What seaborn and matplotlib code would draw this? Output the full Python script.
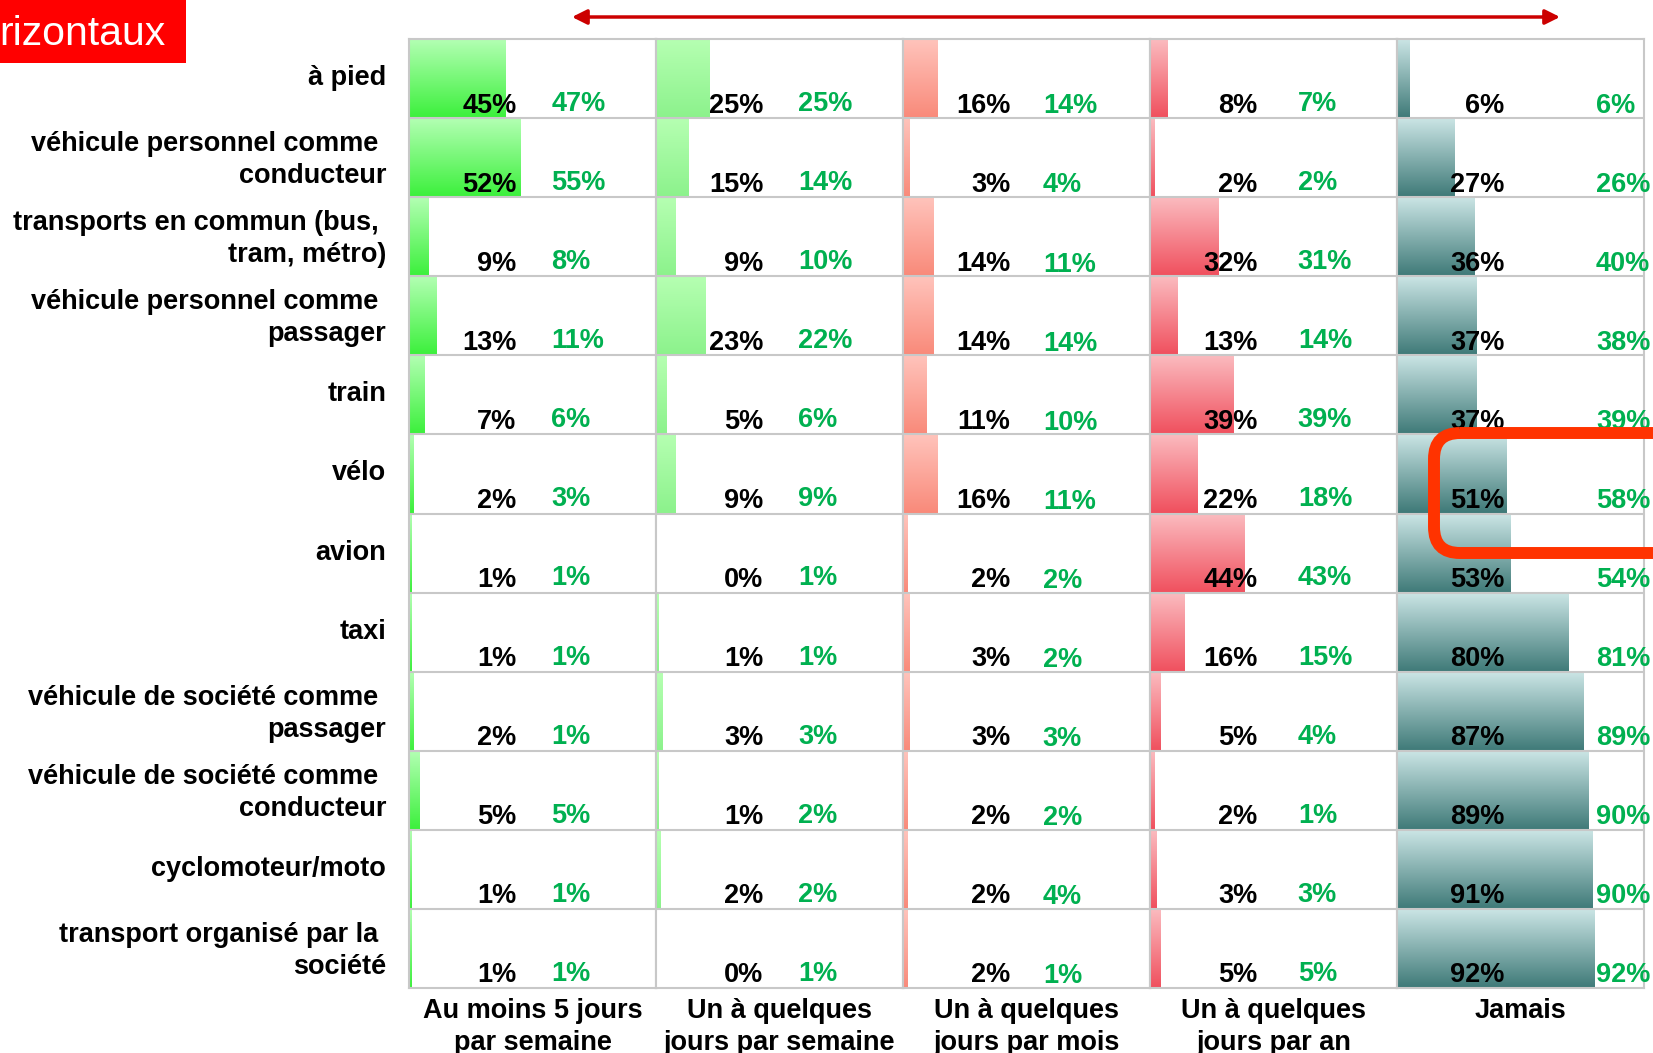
import numpy as np
import pandas as pd
import matplotlib
matplotlib.use("Agg")
import matplotlib.pyplot as plt
import matplotlib.transforms as mtransforms
from matplotlib.colors import to_rgb
from matplotlib.patches import Rectangle, FancyBboxPatch
import seaborn as sns

# =========================================================
# DATA
# =========================================================
modes = [
    "à pied",
    "véhicule personnel comme \nconducteur",
    "transports en commun (bus, \ntram, métro)",
    "véhicule personnel comme \npassager",
    "train",
    "vélo",
    "avion",
    "taxi",
    "véhicule de société comme \npassager",
    "véhicule de société comme \nconducteur",
    "cyclomoteur/moto",
    "transport organisé par la \nsociété",
]
freq_labels = [
    "Au moins 5 jours\npar semaine",
    "Un à quelques\njours par semaine",
    "Un à quelques\njours par mois",
    "Un à quelques\njours par an",
    "Jamais",
]

# current wave (bars + black labels)
cur_5j     = [45, 52, 9, 13, 7, 2, 1, 1, 2, 5, 1, 1]
cur_sem    = [25, 15, 9, 23, 5, 9, 0, 1, 3, 1, 2, 0]
cur_mois   = [16, 3, 14, 14, 11, 16, 2, 3, 3, 2, 2, 2]
cur_an     = [8, 2, 32, 13, 39, 22, 44, 16, 5, 2, 3, 5]
cur_jamais = [6, 27, 36, 37, 37, 51, 53, 80, 87, 89, 91, 92]

# previous wave (green labels)
prev_5j     = [47, 55, 8, 11, 6, 3, 1, 1, 1, 5, 1, 1]
prev_sem    = [25, 14, 10, 22, 6, 9, 1, 1, 3, 2, 2, 1]
prev_mois   = [14, 4, 11, 14, 10, 11, 2, 2, 3, 2, 4, 1]
prev_an     = [7, 2, 31, 14, 39, 18, 43, 15, 4, 1, 3, 5]
prev_jamais = [6, 26, 40, 38, 39, 58, 54, 81, 89, 90, 90, 92]

cur_cols  = [cur_5j, cur_sem, cur_mois, cur_an, cur_jamais]
prev_cols = [prev_5j, prev_sem, prev_mois, prev_an, prev_jamais]

df = pd.concat([
    pd.DataFrame({"mode": modes, "freq": f, "val": c, "prev": p})
    for f, c, p in zip(freq_labels, cur_cols, prev_cols)
], ignore_index=True)

# =========================================================
# STYLE
# =========================================================
sns.set_theme(style="white")
plt.rcParams["font.family"] = ["Liberation Sans", "DejaVu Sans"]

FS = 19.5
GREEN_TXT = "#00b050"
GRID = "#c8c8c8"
# (top colour, bottom colour) of the vertical gradient per column
grads = [("#b4ffb4", "#3cf03c"),
         ("#b6ffb2", "#8cf28c"),
         ("#ffc4bc", "#f98a7a"),
         ("#fbbcc0", "#f0505e"),
         ("#cce6e6", "#3f7a78")]
green_x = [66.2, 66.2, 65.1, 68.8, 92.6]
green_dy = [0.41, 0.41, 0.44, 0.41, 0.43]


def gradient_bar(ax, patch, top, bottom):
    x0, y0 = patch.get_x(), patch.get_y()
    w, h = patch.get_width(), patch.get_height()
    if w <= 0:
        return
    t = np.linspace(0, 1, 64)[:, None, None]
    img = (1 - t) * np.array(to_rgb(top)) + t * np.array(to_rgb(bottom))
    ax.imshow(img, extent=(x0, x0 + w, y0 + h, y0), origin="upper",
              aspect="auto", interpolation="bilinear", zorder=1)
    patch.set_facecolor("none")


fig, axes = plt.subplots(1, 5, figsize=(16.53, 10.53), dpi=100)
fig.subplots_adjust(left=409 / 1653, right=1644 / 1653,
                    top=1 - 39 / 1053, bottom=1 - 988 / 1053, wspace=0)

n = len(modes)
for j, ax in enumerate(axes):
    sub = df[df["freq"] == freq_labels[j]]
    sns.barplot(data=sub, x="val", y="mode", order=modes, orient="h",
                color=grads[j][1], width=1.0, saturation=1, linewidth=0, ax=ax)
    for p in list(ax.patches):
        gradient_bar(ax, p, *grads[j])

    for i, (v, pv) in enumerate(zip(sub["val"], sub["prev"])):
        ax.text(50, i + 0.43, f"{v}%", ha="right", va="baseline",
                fontsize=FS, fontweight="bold", color="black", zorder=5)
        ax.text(green_x[j], i + green_dy[j], f"{pv}%", ha="left", va="baseline",
                fontsize=FS, fontweight="bold", color=GREEN_TXT, zorder=5,
                clip_on=False)

    for i in range(n - 1):
        ax.axhline(i + 0.5, color=GRID, lw=1.5, zorder=3)

    ax.set_xlim(0, 115)
    ax.set_ylim(n - 0.5, -0.5)
    ax.set_xticks([])
    ax.set_xlabel(freq_labels[j], fontsize=FS, fontweight="bold", labelpad=7,
                  linespacing=1.3, color="black")
    ax.set_ylabel("")
    for s in ax.spines.values():
        s.set_visible(True)
        s.set_color(GRID)
        s.set_linewidth(1.5)
    if j == 0:
        ax.tick_params(axis="y", left=False, pad=10.5, labelsize=FS,
                       labelcolor="black")
        lift = mtransforms.ScaledTranslation(0, 2.5 / 72, fig.dpi_scale_trans)
        for t in ax.get_yticklabels():
            t.set_fontweight("bold")
            t.set_linespacing(1.3)
            t.set_transform(t.get_transform() + lift)
    else:
        ax.tick_params(axis="y", left=False, labelleft=False)

# =========================================================
# DECORATIONS (pixel coords overlay)
# =========================================================
ov = fig.add_axes([0, 0, 1, 1], zorder=10)
ov.set_xlim(0, 1653)
ov.set_ylim(1053, 0)
ov.axis("off")
ov.patch.set_alpha(0)

ov.add_patch(Rectangle((0, 0), 186, 63, facecolor="#ff0000", edgecolor="none"))
ov.text(-1, 45, "rizontaux", color="white", fontsize=29.5, va="baseline", ha="left")

ov.annotate("", xy=(1560, 17), xytext=(572, 17),
            arrowprops=dict(arrowstyle="<|-|>", color="#cc0000", lw=2.5,
                            mutation_scale=22, shrinkA=0, shrinkB=0))

ov.add_patch(FancyBboxPatch((1434, 433), 320, 120,
                            boxstyle="round,pad=0,rounding_size=26",
                            facecolor="none", edgecolor="#ff3300", lw=8.6,
                            clip_on=False))

fig.savefig("out.png", dpi=100)
